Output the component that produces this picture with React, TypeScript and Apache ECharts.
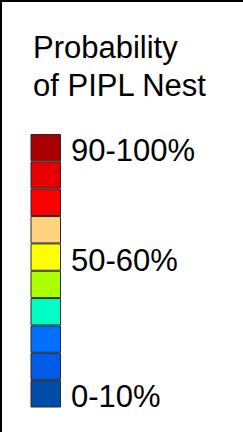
import React, { useEffect, useRef } from "react";
import * as echarts from "echarts";

const categories = ["0-10%", "10-20%", "20-30%", "30-40%", "40-50%", "50-60%", "60-70%", "70-80%", "80-90%", "90-100%"];
const colors = ["#004DA8", "#005CE6", "#0070FF", "#00FFC5", "#AAFF00", "#FFFF00", "#FFD37F", "#FF0000", "#E60000", "#A80000"];
const values = [1, 1, 1, 1, 1, 1, 1, 1, 1, 1];
const shownLabels = ["0-10%", "50-60%", "90-100%"];
const titleLines = ["Probability", "of PIPL Nest"];

export default function App() {
  const ref = useRef<HTMLDivElement>(null);
  useEffect(() => {
    if (!ref.current) return;
    const chart = echarts.init(ref.current, null, { renderer: "svg" });
    chart.setOption({
      animation: false,
      backgroundColor: "#ffffff",
      title: {
        text: titleLines.join("\n"),
        left: 33,
        top: 28,
        padding: 0,
        textStyle: {
          fontFamily: "Liberation Sans, Arial, sans-serif",
          fontSize: 31,
          fontWeight: "normal",
          lineHeight: 38,
          color: "#000",
        },
      },
      grid: { left: 30.5, top: 134, width: 30.5, height: 273.5 },
      xAxis: { type: "value", min: 0, max: 1, show: false },
      yAxis: { type: "category", data: categories, show: false },
      series: [
        {
          type: "bar",
          barCategoryGap: 0,
          data: values.map((v, i) => ({ value: v, itemStyle: { color: colors[i] } })),
          itemStyle: { borderColor: "#2a2a2a", borderWidth: 1 },
          label: {
            show: true,
            position: "right",
            distance: 10,
            fontFamily: "Liberation Sans, Arial, sans-serif",
            fontSize: 31,
            color: "#000",
            offset: [0, 3],
            formatter: (p: any) => (shownLabels.includes(categories[p.dataIndex]) ? categories[p.dataIndex] : ""),
          },
        },
      ],
      graphic: [
        { type: "line", shape: { x1: 0, y1: 1, x2: 243, y2: 1 }, style: { stroke: "#000", lineWidth: 2 } },
        { type: "line", shape: { x1: 1, y1: 0, x2: 1, y2: 432 }, style: { stroke: "#000", lineWidth: 2 } },
      ],
    });
    return () => chart.dispose();
  }, []);
  return <div ref={ref} style={{ position: "fixed", left: 0, top: 0, width: 243, height: 432 }} />;
}
